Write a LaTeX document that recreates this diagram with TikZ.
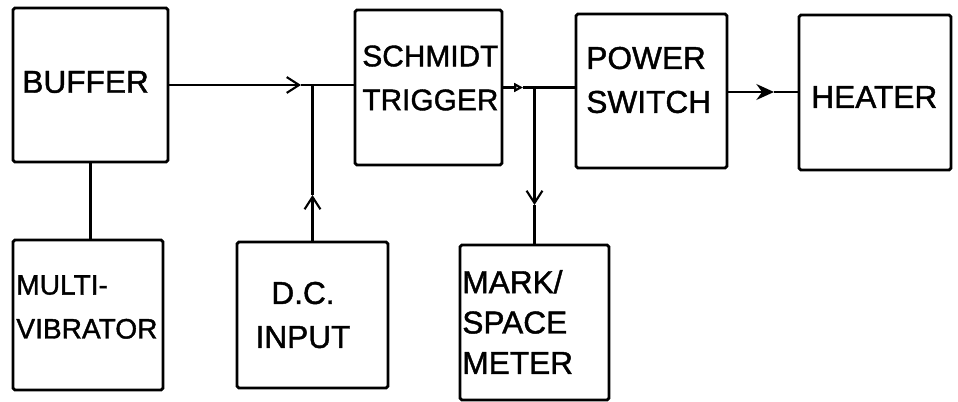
\documentclass[tikz,border=0pt]{standalone}
\usepackage{fontspec}
\setmainfont{Liberation Sans}[FakeBold=1.3]
\usetikzlibrary{arrows.meta}
\tikzset{
  box/.style={draw,line width=1.6pt,rounded corners=1pt,inner sep=0pt},
  lbl/.style={inner sep=0pt,align=left,anchor=west,font=\fontsize{18}{25}\selectfont},
  wire/.style={line width=1.2pt},
  barb/.style={-{Straight Barb[length=7pt,width=9pt,line width=1.2pt]}},
}

\begin{document}
\begin{tikzpicture}[x=0.02cm,y=-0.02cm]
      \useasboundingbox (0,0) rectangle (958,402);
      % blocks
      \node[box,minimum width=3.1cm,minimum height=3.08cm] (buffer) at (90.5,85) {};
      \node[box,minimum width=3cm,minimum height=3cm] (multi) at (88,315) {};
      \node[box,minimum width=3.02cm,minimum height=2.92cm] (dcin) at (312.5,315) {};
      \node[box,minimum width=2.94cm,minimum height=3.1cm] (schmidt) at (428.5,87.5) {};
      \node[box,minimum width=3.02cm,minimum height=3.08cm] (power) at (651.5,91) {};
      \node[box,minimum width=3.04cm,minimum height=3.1cm] (heater) at (875,92.5) {};
      \node[box,minimum width=2.98cm,minimum height=3.1cm] (mark) at (534.5,322.5) {};
      % texts
      \node[lbl] (buffer-t) at (22,82) {BUFFER};
      \node[lbl,font=\fontsize{16}{25}\selectfont] (multi-t) at (16,307) {MULTI-\\VIBRATOR};
      \node[lbl,align=center,anchor=center] (dcin-t) at (303,315) {D.C.\\INPUT};
      \node[lbl,font=\fontsize{17}{25}\selectfont] (schmidt-t) at (362,78) {SCHMIDT\\TRIGGER};
      \node[lbl] (power-t) at (586,80) {POWER\\SWITCH};
      \node[lbl] (heater-t) at (811,97) {HEATER};
      \node[lbl,font=\fontsize{18}{23}\selectfont] (mark-t) at (462,322) {MARK/\\SPACE\\METER};
      % junctions and arrow tips
      \coordinate (j1) at (dcin.north |- buffer.east);
      \coordinate (j2) at (mark.north |- schmidt.east);
      \coordinate (a1) at (301,85);
      \coordinate (a2) at (312.5,195);
      \coordinate (a3) at (523,87.5);
      \coordinate (a4) at (534.5,205);
      \coordinate (a5) at (774,92);
      % connectors
      \draw[wire] (buffer.south) -- (buffer.south |- multi.north);
      \draw[wire,barb] (buffer.east) -- (a1);
      \draw[wire] (a1) -- (j1) -- (schmidt.west |- j1);
      \draw[wire,barb] (dcin.north) -- (a2);
      \draw[wire] (a2) -- (j1);
      \draw[wire,-{Triangle[open,length=5pt,width=5pt]}] (schmidt.east) -- (a3);
      \draw[wire] (a3) -- (j2) -- (power.west |- j2);
      \draw[wire,barb] (j2) -- (a4);
      \draw[wire] (a4) -- (mark.north);
      \draw[line width=1.6pt,-{Stealth[length=10pt,width=9pt]}] (power.east |- a5) -- (a5);
      \draw[line width=1.6pt] (a5) -- (heater.west |- a5);
    \end{tikzpicture}
\end{document}
